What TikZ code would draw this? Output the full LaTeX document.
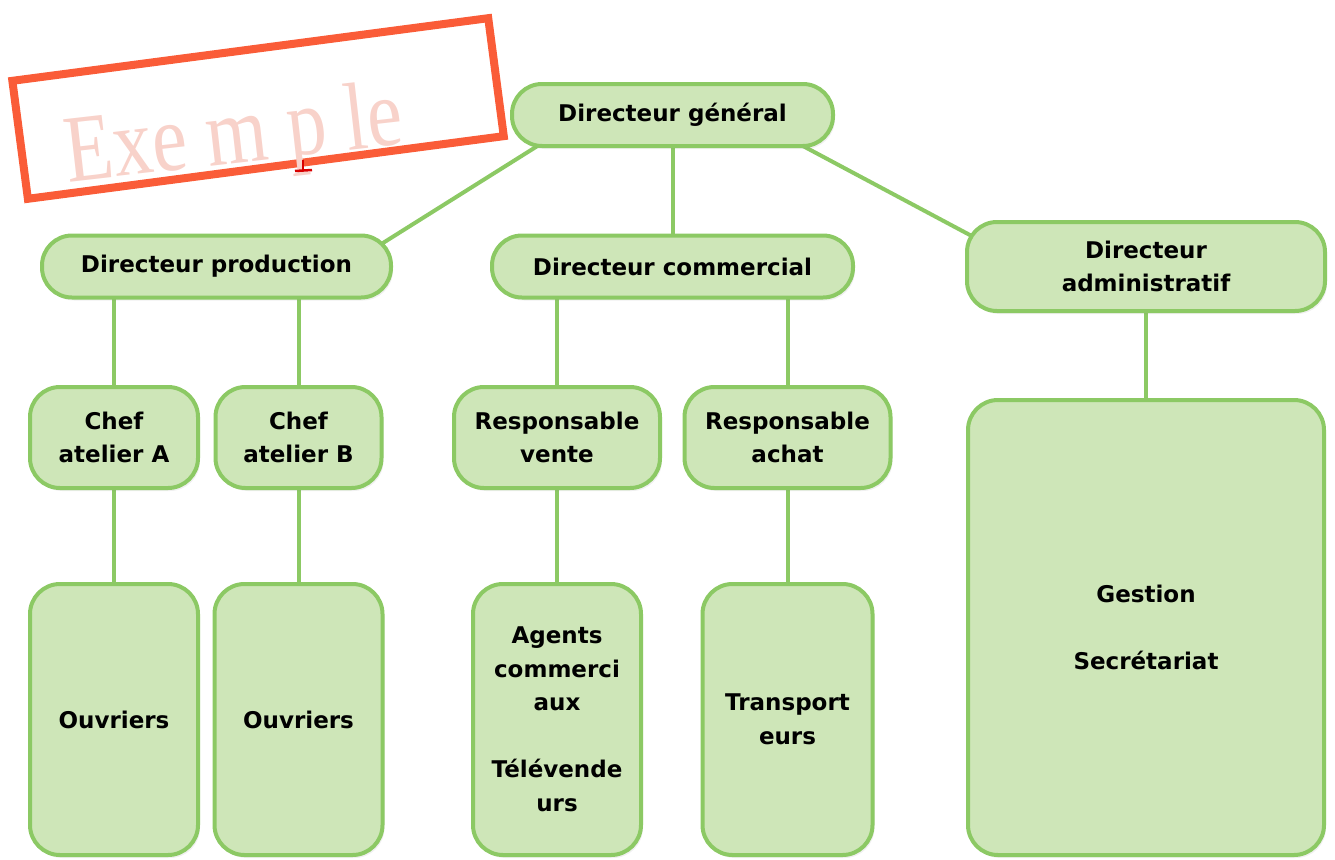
\documentclass[tikz,border=0pt]{standalone}
\usepackage{fontspec}
\setmainfont{DejaVu Sans}
\newfontfamily\stampfont[FakeStretch=0.82]{Liberation Serif}
\usetikzlibrary{backgrounds,shadows}
\definecolor{boxfill}{RGB}{206,230,184}
\definecolor{boxline}{RGB}{140,201,100}
\definecolor{stampred}{RGB}{250,92,56}
\definecolor{stamptext}{RGB}{248,210,202}

\begin{document}
\begin{tikzpicture}[x=1pt,y=-1pt,
    box/.style={draw=boxline, fill=boxfill, line width=4pt, rounded corners=30pt,
        align=center, inner sep=0pt, font=\fontsize{23}{33.5}\selectfont\bfseries,
        drop shadow={shadow xshift=2pt, shadow yshift=-3pt, opacity=0.12}},
    pill/.style={box, minimum height=62pt},
    chef/.style={box, minimum height=101pt},
    team/.style={box, minimum height=271pt, minimum width=168pt},
    link/.style={draw=boxline, line width=4pt}]
            \useasboundingbox (0,0) rectangle (1335,859);
            % stamp
            \draw[stampred, line width=8pt, rotate around={7.5:(258,108)}] (18,49) rectangle (498,168);
            \node[stamptext, anchor=base, rotate=6.5, font=\fontsize{96}{96}\selectfont\stampfont] (stamp) at (237,163) {Exe m p le};
            \draw[red!85!black, line width=2.5pt] (303,160) -- (303,170);
            \draw[red!85!black, line width=2.5pt] (295,171) -- (312,170);
            % top
            \node[pill, minimum width=321pt] (dg) at (672.5,115) {Directeur général};
            \node[pill, minimum width=349pt] (dp) at (216.5,266.5) {Directeur production};
            \node[pill, minimum width=361pt] (dc) at (672.5,266.5) {Directeur commercial};
            \node[box, minimum width=358pt, minimum height=89pt] (da) at (1146,266.5) {Directeur\\administratif};
            % chefs
            \node[chef, minimum width=168pt] (ca) at (114,437.5) {Chef\\atelier A};
            \node[chef, minimum width=166pt] (cb) at (298.5,437.5) {Chef\\atelier B};
            \node[chef, minimum width=206pt] (rv) at (557,437.5) {Responsable\\vente};
            \node[chef, minimum width=206pt] (ra) at (787.5,437.5) {Responsable\\achat};
            % teams
            \node[team] (oa) at (114,719.5) {Ouvriers};
            \node[team] (ob) at (298.5,719.5) {Ouvriers};
            \node[team] (ag) at (557,719.5) {Agents\\commerci\\aux\\[33.5pt]Télévende\\urs};
            \node[team, minimum width=170pt] (tr) at (787.5,719.5) {Transport\\eurs};
            \node[box, minimum width=356pt, minimum height=455pt] (ge) at (1146,627.5) {Gestion\\[33.5pt]Secrétariat};
            \begin{scope}[on background layer]
                \draw[link] ([xshift=30pt,yshift=3.6pt]dg.south west) -- ([xshift=-15pt,yshift=-12.6pt]dp.north east);
                \draw[link] ([xshift=-33pt,yshift=2.5pt]dg.south east) -- ([xshift=18pt,yshift=-22pt]da.north west);
                \draw[link] (dg) -- (dc);
                \draw[link] (ca) -- (ca |- dp);
                \draw[link] (cb) -- (cb |- dp);
                \draw[link] (rv) -- (rv |- dc);
                \draw[link] (ra) -- (ra |- dc);
                \draw[link] (ca) -- (oa);
                \draw[link] (cb) -- (ob);
                \draw[link] (rv) -- (ag);
                \draw[link] (ra) -- (tr);
                \draw[link] (da) -- (ge);
            \end{scope}
        \end{tikzpicture}
\end{document}
